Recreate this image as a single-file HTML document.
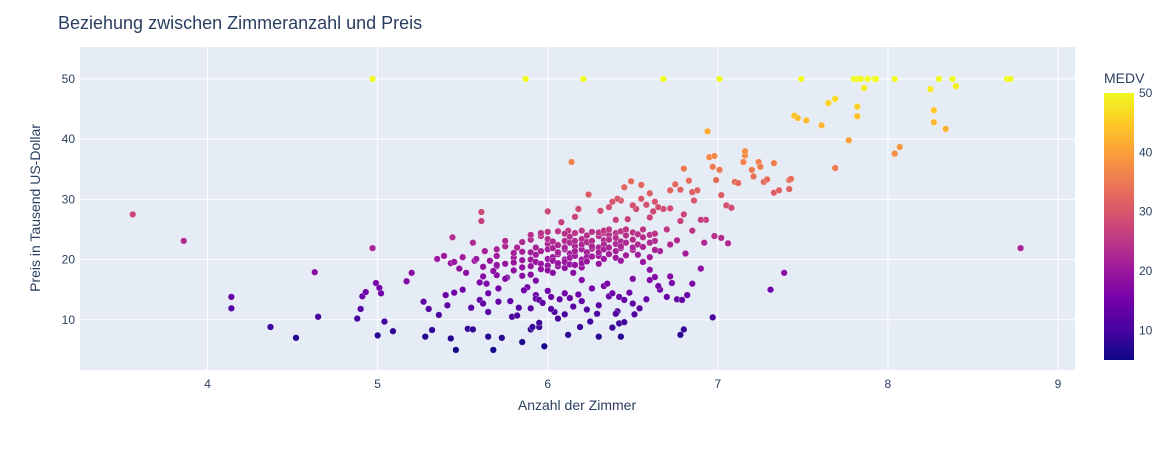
<!DOCTYPE html>
<html><head><meta charset="utf-8"><style>
body{margin:0;background:#fff;font-family:"Liberation Sans",sans-serif}
svg text{font-family:"Liberation Sans",sans-serif;fill:#2a3f5f}
</style></head><body>
<svg id="chart" width="1170" height="450" xmlns="http://www.w3.org/2000/svg">
<defs><linearGradient id="plasma" x1="0" y1="1" x2="0" y2="0">
<stop offset="0" stop-color="#0d0887"/><stop offset="0.111" stop-color="#46039f"/><stop offset="0.222" stop-color="#7201a8"/><stop offset="0.333" stop-color="#9c179e"/><stop offset="0.444" stop-color="#bd3786"/><stop offset="0.555" stop-color="#d8576b"/><stop offset="0.666" stop-color="#ed7953"/><stop offset="0.777" stop-color="#fb9f3a"/><stop offset="0.888" stop-color="#fdca26"/><stop offset="1" stop-color="#f0f921"/>
</linearGradient></defs>
<text x="58" y="29" font-size="18">Beziehung zwischen Zimmeranzahl und Preis</text>
<rect x="80" y="47" width="995" height="323" fill="#e5ecf6"/>
<g id="grid"></g><g id="marks"></g><g id="ticks"></g>
<text x="577" y="410" font-size="14" text-anchor="middle">Anzahl der Zimmer</text>
<text transform="translate(40,208) rotate(-90)" font-size="14" text-anchor="middle">Preis in Tausend US-Dollar</text>
<text x="1104" y="83" font-size="14">MEDV</text>
<rect x="1104" y="93" width="30" height="267" fill="url(#plasma)"/>
<g id="cbticks"></g>
</svg>
<script>
const xTicks=[4,5,6,7,8,9];
const yTicks=[10,20,30,40,50];
const cTicks=[10,20,30,40,50];
const observations=[
[3.56,27.5],[3.86,23.1],[4.14,13.8],[4.14,11.9],[4.37,8.8],[4.52,7.0],[4.63,17.9],[4.65,10.5],[4.88,10.2],[4.9,11.8],[4.91,13.9],[4.93,14.6],[4.97,21.9],[4.97,50],[4.99,16.1],[5.0,7.4],[5.01,15.3],[5.04,9.7],[5.09,8.1],[5.02,14.4],[5.17,16.4],[5.2,17.8],[5.27,13.0],[5.28,7.2],[5.3,11.8],[5.32,8.3],[5.35,20.1],[5.36,10.8],[5.39,20.6],[5.4,14.1],[5.41,12.4],[5.43,19.4],[5.44,23.7],[5.45,14.5],[5.46,5.0],[5.5,15.0],[5.53,8.5],[5.55,12.0],[5.56,22.8],[5.57,19.8],[5.6,16.2],[5.6,13.3],[5.61,26.4],[5.61,27.9],[5.62,18.8],[5.63,21.4],[5.65,11.3],[5.68,5.0],[5.7,18.9],[5.71,13.0],[5.73,7.0],[5.75,22.2],[5.76,17.0],[5.79,10.5],[5.82,22.0],[5.85,6.3],[5.87,50],[5.88,15.4],[5.9,8.4],[5.93,14.1],[5.95,8.8],[5.98,5.6],
[6.21,50],[6.68,50],[7.01,50],[7.49,50],[7.8,50],[7.82,50],[7.84,50],[7.88,50],[7.92,50],[7.93,50],[8.04,50],[8.3,50],[8.38,50],[8.7,50],[8.72,50],
[7.45,43.9],[7.47,43.5],[7.52,43.1],[7.61,42.3],[7.65,46.0],[7.69,46.7],[7.77,39.8],[7.82,45.4],[7.82,43.8],[7.86,48.5],[7.69,35.2],[8.04,37.6],[8.07,38.7],[8.25,48.3],[8.27,44.8],[8.27,42.8],[8.34,41.7],[8.4,48.8],[8.78,21.9],[7.39,17.8],[7.31,15.0],[6.97,10.4],[6.94,41.3],
[6.55,32.4],[6.6,31.0],[6.63,29.6],[6.68,28.4],[6.72,31.5],[6.75,32.5],[6.78,31.6],[6.8,35.1],[6.83,33.1],[6.85,31.2],[6.86,29.8],[6.88,31.5],[6.95,37.0],[6.98,37.2],[6.97,35.4],[6.99,33.2],[7.01,34.9],[7.02,30.7],[7.05,29.0],[7.08,28.6],[7.1,32.9],[7.12,32.7],[7.15,36.2],[7.16,37.3],[7.16,38.0],[7.2,34.9],[7.21,33.8],[7.24,36.2],[7.25,35.4],[7.27,32.9],[7.29,33.3],[7.33,31.1],[7.33,36.0],[7.36,31.5],[7.42,31.7],[7.42,33.2],[7.43,33.4],[7.06,22.7],[7.02,23.6],[6.98,23.9],[6.93,26.6],[6.9,26.6],[6.92,22.8],[6.85,24.8],[6.8,27.5],[6.78,26.4],[6.76,23.2],[6.72,28.5],[6.7,25.0],[6.65,28.7],[6.62,28.0],[6.6,27.0],[6.58,29.1],[6.55,30.1],[6.52,28.4],[6.5,29.0],[6.47,26.7],[6.43,29.8],[6.41,30.1],[6.4,26.6],[6.38,29.6],[6.36,28.7],[6.33,24.4],[6.31,28.1],[6.25,22.6],[6.18,28.4],[6.16,27.1],[6.14,36.2],[6.12,24.8],[6.08,26.2],[6.0,28.0],[6.24,30.8],[6.45,32.0],[6.49,33.0],[6.72,22.5],[6.66,21.4],[6.63,23.1],[6.81,21.0],
[5.62,12.7],[5.65,14.4],[5.71,15.2],[5.78,13.1],[5.83,12.0],[5.86,14.9],[5.9,11.9],[5.93,13.5],[5.95,13.3],[5.97,12.8],[6.0,14.8],[6.02,13.8],[6.04,11.3],[6.07,13.4],[6.1,14.4],[6.13,13.6],[6.15,12.2],[6.18,14.2],[6.2,13.1],[6.23,11.7],[6.26,15.2],[6.29,11.0],[6.3,12.4],[6.33,15.6],[6.36,13.9],[6.38,14.4],[6.41,11.4],[6.42,13.8],[6.45,13.3],[6.48,14.5],[6.5,12.7],[6.54,11.9],[6.58,13.4],[6.6,16.6],[6.63,17.1],[6.66,15.0],[6.7,13.8],[6.73,16.1],[6.76,13.4],[6.79,13.3],[6.82,14.1],[6.72,17.2],[6.19,8.8],[6.06,10.2],[6.25,9.7],[6.3,7.2],[6.38,8.7],[6.42,9.4],[6.43,7.2],[6.45,9.6],[6.51,10.9],[6.78,7.5],[6.8,8.4],[6.4,11.0],[6.1,10.9],[5.91,8.8],[5.95,9.5],[5.56,8.4],[5.43,6.9],[5.65,7.2],[5.82,10.7],[6.02,11.8],[6.12,7.5],[6.15,17.8],[6.2,16.6],[6.35,16.0],[6.5,16.8],[6.6,18.3],[6.65,15.6],[6.85,16.0],[6.9,18.5],
[5.7,20.6],[5.7,19.1],[5.7,17.4],[5.7,21.7],[5.75,19.3],[5.75,23.1],[5.75,16.8],[5.8,18.2],[5.8,20.3],[5.8,21.1],[5.8,19.5],[5.85,17.3],[5.85,19.9],[5.85,22.9],[5.85,21.3],[5.85,18.7],[5.9,20.0],[5.9,21.2],[5.9,23.3],[5.9,18.9],[5.9,17.5],[5.9,24.1],[5.93,19.6],[5.93,22.0],[5.93,16.5],[5.93,20.8],[5.96,19.3],[5.96,21.4],[5.96,23.9],[5.96,18.4],[5.96,24.4],[6.0,20.1],[6.0,22.6],[6.0,19.0],[6.0,21.7],[6.0,23.4],[6.0,18.2],[6.0,24.6],[6.03,20.4],[6.03,21.9],[6.03,19.8],[6.03,23.0],[6.03,17.8],[6.06,18.9],[6.06,22.4],[6.06,20.9],[6.06,24.7],[6.06,19.4],[6.06,21.2],[6.1,20.0],[6.1,23.1],[6.1,21.7],[6.1,18.6],[6.1,19.6],[6.1,22.0],[6.1,24.3],[6.13,21.0],[6.13,22.8],[6.13,20.3],[6.13,19.2],[6.13,23.8],[6.16,22.2],[6.16,20.6],[6.16,19.1],[6.16,24.4],[6.16,21.4],[6.16,23.1],[6.2,21.7],[6.2,20.0],[6.2,23.4],[6.2,18.7],[6.2,22.5],[6.2,24.8],[6.2,19.4],[6.23,21.2],[6.23,22.9],[6.23,20.4],[6.23,24.0],[6.23,19.7],[6.26,23.1],[6.26,21.8],[6.26,24.6],[6.26,20.5],[6.26,22.2],[6.3,22.0],[6.3,23.9],[6.3,20.6],[6.3,24.5],[6.3,21.2],[6.3,19.3],[6.33,23.2],[6.33,22.5],[6.33,20.1],[6.33,24.8],[6.33,21.7],[6.36,24.1],[6.36,22.0],[6.36,23.3],[6.36,20.9],[6.36,25.0],[6.4,22.6],[6.4,24.4],[6.4,21.4],[6.4,23.6],[6.4,20.3],[6.43,23.0],[6.43,24.7],[6.43,21.9],[6.43,22.2],[6.43,19.8],[6.46,24.0],[6.46,22.8],[6.46,25.0],[6.46,20.7],[6.5,23.3],[6.5,24.5],[6.5,21.6],[6.5,22.0],[6.53,24.2],[6.53,22.5],[6.53,20.8],[6.56,25.0],[6.56,23.7],[6.56,22.1],[6.56,19.6],[6.6,24.1],[6.6,22.8],[6.6,20.4],[6.63,24.3],[6.63,21.6],[5.62,17.2],[5.64,16.0],[5.66,19.8],[5.68,18.1],[5.5,20.4],[5.52,17.8],[5.58,20.1],[5.45,19.6],[5.48,18.5]
];
const X0=3.25,X1=9.1,Y0=1.66,Y1=55.3,L=80,R=1075,T=47,B=370;
const sx=v=>L+(v-X0)/(X1-X0)*(R-L), sy=v=>B-(v-Y0)/(Y1-Y0)*(B-T);
const ns='http://www.w3.org/2000/svg';
const stops=['#0d0887','#46039f','#7201a8','#9c179e','#bd3786','#d8576b','#ed7953','#fb9f3a','#fdca26','#f0f921'];
function hex(h){return [1,3,5].map(i=>parseInt(h.substr(i,2),16));}
function col(v){let t=Math.max(0,Math.min(1,(v-5)/45))*(stops.length-1);let i=Math.min(Math.floor(t),stops.length-2),f=t-i;const a=hex(stops[i]),b=hex(stops[i+1]);return 'rgb('+a.map((c,k)=>Math.round(c+(b[k]-c)*f)).join(',')+')';}
function mk(tag,at,p){const e=document.createElementNS(ns,tag);for(const k in at)e.setAttribute(k,at[k]);p.appendChild(e);return e;}
const grid=document.getElementById('grid'),ticks=document.getElementById('ticks'),marks=document.getElementById('marks'),cb=document.getElementById('cbticks');
xTicks.forEach(v=>{const l=mk('line',{x1:sx(v),x2:sx(v),y1:T,y2:B,stroke:'#fff','stroke-width':1},grid);


const t=mk('text',{x:sx(v),y:B+18,'font-size':12,'text-anchor':'middle'},ticks);t.textContent=v;

});
yTicks.forEach(v=>{const l=mk('line',{x1:L,x2:R,y1:sy(v),y2:sy(v),stroke:'#fff','stroke-width':1},grid);


const t=mk('text',{x:L-5,y:sy(v)+4,'font-size':12,'text-anchor':'end'},ticks);t.textContent=v;

});
cTicks.forEach(v=>{const y=93+(50-v)/45*267;const t=mk('text',{x:1139,y:y+4,'font-size':12},cb);t.textContent=v;

});
observations.forEach(p=>{const c=mk('circle',{cx:sx(p[0]),cy:sy(p[1]),r:3.3,fill:col(p[1]),stroke:'#fff','stroke-width':0.3},marks);

});
</script>
</body></html>
